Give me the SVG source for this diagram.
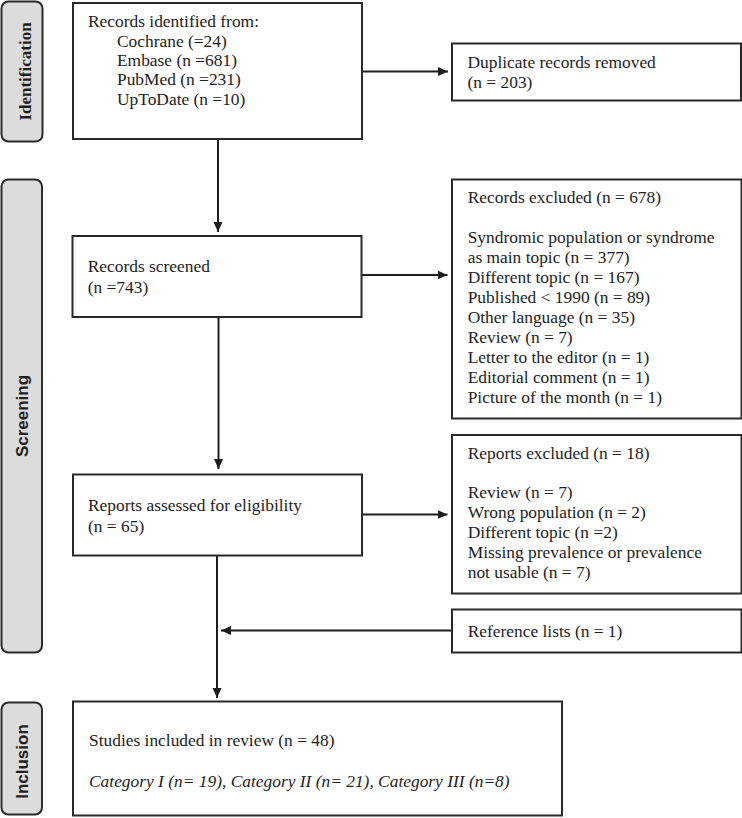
<svg xmlns="http://www.w3.org/2000/svg" width="742" height="818" viewBox="0 0 742 818">
<style>
.box{fill:#fff;stroke:#2a2a2a;stroke-width:2}
.lab{fill:#dcdcdc;stroke:#2a2a2a;stroke-width:2}
.t{font-family:"Liberation Serif","Times New Roman",serif;font-size:17.4px;fill:#1e1e1e}
.it{font-style:italic}
.ls{font-family:"Liberation Sans",Arial,sans-serif;font-weight:bold;font-size:17px;fill:#1e1e1e}
.lsr{font-family:"Liberation Serif","Times New Roman",serif;font-weight:bold;font-size:17px;fill:#1e1e1e}
.con{stroke:#1e1e1e;stroke-width:2;fill:none}
</style>
<defs>
<marker id="ah" markerUnits="userSpaceOnUse" markerWidth="11" markerHeight="10" refX="10" refY="5" orient="auto">
<path d="M0,0.5 L10,5 L0,9.5 z" fill="#1e1e1e"/>
</marker>
</defs>
<rect width="742" height="818" fill="#fff"/>
<g id="label-identification">
<rect class="lab" x="1.5" y="1.5" width="41" height="140" rx="7"/>
<text class="lsr" transform="translate(31,71.5) rotate(-90)" text-anchor="middle">Identification</text>
</g>
<g id="label-screening">
<rect class="lab" x="1.5" y="179.5" width="40.5" height="473" rx="7"/>
<text class="ls" transform="translate(27.5,416) rotate(-90)" text-anchor="middle">Screening</text>
</g>
<g id="label-inclusion">
<rect class="lab" x="1.5" y="702.5" width="40.5" height="112" rx="7"/>
<text class="ls" transform="translate(27.5,761.5) rotate(-90)" text-anchor="middle">Inclusion</text>
</g>
<g id="connectors">
<line class="con" x1="362" y1="71.5" x2="448" y2="71.5" marker-end="url(#ah)"/>
<line class="con" x1="218" y1="139" x2="218" y2="232" marker-end="url(#ah)"/>
<line class="con" x1="361.5" y1="275" x2="447.5" y2="275" marker-end="url(#ah)"/>
<line class="con" x1="218.5" y1="317" x2="218.5" y2="469" marker-end="url(#ah)"/>
<line class="con" x1="362" y1="514.5" x2="447.5" y2="514.5" marker-end="url(#ah)"/>
<line class="con" x1="217" y1="555.5" x2="217" y2="698" marker-end="url(#ah)"/>
<line class="con" x1="452" y1="630.5" x2="221" y2="630.5" marker-end="url(#ah)"/>
</g>
<g id="records-identified">
<rect class="box" x="73" y="3" width="289" height="136"/>
<text class="t" x="88" y="27.3">Records identified from:</text>
<text class="t" x="117" y="46.7">Cochrane (=24)</text>
<text class="t" x="117" y="66">Embase (n =681)</text>
<text class="t" x="117" y="85.3">PubMed (n =231)</text>
<text class="t" x="117" y="104.5">UpToDate (n =10)</text>
</g>
<g id="duplicates-removed">
<rect class="box" x="452" y="43.5" width="289" height="57"/>
<text class="t" x="467.5" y="67.7">Duplicate records removed</text>
<text class="t" x="467.5" y="88.3">(n = 203)</text>
</g>
<g id="records-screened">
<rect class="box" x="72.5" y="236" width="289" height="81"/>
<text class="t" x="87.7" y="271.7">Records screened</text>
<text class="t" x="87.7" y="293.3">(n =743)</text>
</g>
<g id="records-excluded">
<rect class="box" x="452" y="179.5" width="289.5" height="239"/>
<text class="t" x="467.7" y="203.3">Records excluded (n = 678)</text>
<text class="t" x="467.7" y="243.3">Syndromic population or syndrome</text>
<text class="t" x="467.7" y="263.3">as main topic (n = 377)</text>
<text class="t" x="467.7" y="283.3">Different topic (n = 167)</text>
<text class="t" x="467.7" y="303.3">Published &lt; 1990 (n = 89)</text>
<text class="t" x="467.7" y="323.3">Other language (n = 35)</text>
<text class="t" x="467.7" y="343.3">Review (n = 7)</text>
<text class="t" x="467.7" y="363.3">Letter to the editor (n = 1)</text>
<text class="t" x="467.7" y="383.3">Editorial comment (n = 1)</text>
<text class="t" x="467.7" y="403.3">Picture of the month (n = 1)</text>
</g>
<g id="reports-assessed">
<rect class="box" x="73" y="474.5" width="289" height="81"/>
<text class="t" x="88" y="511">Reports assessed for eligibility</text>
<text class="t" x="88" y="531.7">(n = 65)</text>
</g>
<g id="reports-excluded">
<rect class="box" x="452" y="435" width="289.5" height="158.5"/>
<text class="t" x="467.7" y="458.5">Reports excluded (n = 18)</text>
<text class="t" x="467.7" y="498.3">Review (n = 7)</text>
<text class="t" x="467.7" y="518.3">Wrong population (n = 2)</text>
<text class="t" x="467.7" y="538.3">Different topic (n =2)</text>
<text class="t" x="467.7" y="558.3">Missing prevalence or prevalence</text>
<text class="t" x="467.7" y="578.3">not usable (n = 7)</text>
</g>
<g id="reference-lists">
<rect class="box" x="452" y="609.5" width="289.5" height="43"/>
<text class="t" x="467.7" y="636.7">Reference lists (n = 1)</text>
</g>
<g id="studies-included">
<rect class="box" x="73" y="701.5" width="489" height="114"/>
<text class="t" x="89" y="746">Studies included in review (n = 48)</text>
<text class="t it" x="89" y="786.7">Category I (n= 19), Category II (n= 21), Category III (n=8)</text>
</g>
</svg>
